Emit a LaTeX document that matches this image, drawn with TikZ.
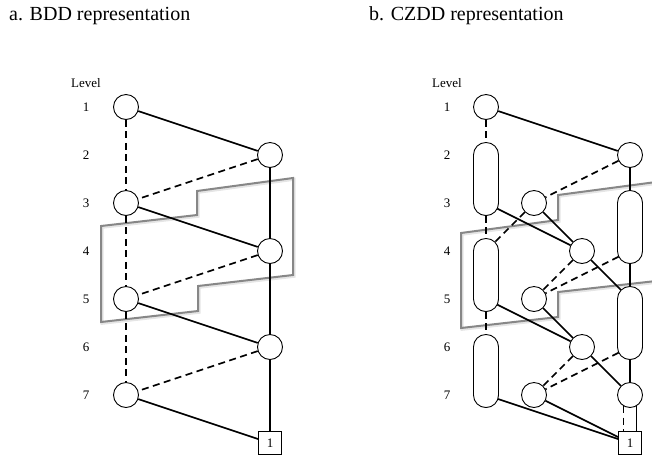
\documentclass[tikz,border=0pt]{standalone}
\usepackage{fontspec}
\setmainfont{Liberation Serif}
\usetikzlibrary{calc}

\begin{document}
\begin{tikzpicture}[x=1pt,y=-1pt,
  vtx/.style={circle,draw,line width=0.9pt,minimum size=25pt,inner sep=0pt},
  port/.style={circle,minimum size=25pt,inner sep=0pt},
  pill/.style={rectangle,draw,line width=0.9pt,rounded corners=12.3pt,
               minimum width=25pt,minimum height=73pt,inner sep=0pt},
  term/.style={rectangle,draw,line width=0.9pt,minimum size=23pt,inner sep=0pt,
               font=\fontsize{13}{14}\selectfont},
  hi/.style={line width=1.7pt},
  lo/.style={line width=1.7pt,dash pattern=on 7pt off 4.5pt},
  lvl/.style={font=\fontsize{13}{15}\selectfont,inner sep=0pt},
  ttl/.style={font=\fontsize{20}{24}\selectfont,anchor=base west,inner sep=0pt},
  frame/.style={draw=black!47,line width=2pt,line join=miter},
  frameshade/.style={draw=black!10,line width=3pt,line join=miter}
]
\useasboundingbox (0,0) rectangle (652,456);
\clip (0,0) rectangle (652,456);

% titles
\node[ttl] (ta) at (9,20) {a. BDD representation};
\node[ttl] (tb) at (369,20) {b. CZDD representation};

% level scales
\node[lvl] (la) at (86,83) {Level};
\node[lvl] (lb) at (447,83) {Level};
\foreach \k in {1,...,7}{
  \node[lvl] (la\k) at (86,{107+48*(\k-1)}) {\k};
  \node[lvl] (lb\k) at (447,{107+48*(\k-1)}) {\k};
}

% highlighted regions (with a soft drop shade)
\draw[frameshade] ([shift={(1,1.3)}]101,226) -- ++(96,-11) -- ++(0,-24) -- ++(96,-13)
  -- ++(0,97) -- ++(-95,11) -- ++(0,25) -- ++(-97,11) -- cycle;
\draw[frame] (101,226) -- (197,215) -- (197,191) -- (293,178) -- (293,275)
  -- (198,286) -- (198,311) -- (101,322) -- cycle;
\draw[frameshade] ([shift={(1,1.3)}]461,233) -- ++(97,-13) -- ++(0,-25) -- ++(98,-13)
  -- ++(0,99) -- ++(-98,11) -- ++(0,25) -- ++(-97,11) -- cycle;
\draw[frame] (461,233) -- (558,220) -- (558,195) -- (656,182) -- (656,281)
  -- (558,292) -- (558,317) -- (461,328) -- cycle;

% ---------- a. BDD ----------
\node[vtx] (a1) at (126,107) {};
\node[vtx] (a2) at (270,155) {};
\node[vtx] (a3) at (126,203) {};
\node[vtx] (a4) at (270,251) {};
\node[vtx] (a5) at (126,299) {};
\node[vtx] (a6) at (270,347) {};
\node[vtx] (a7) at (126,395) {};
\node[term] (at) at (270,443) {1};

\draw[hi] (a1) -- (a2);  \draw[lo] (a1) -- (a3);
\draw[lo] (a2) -- (a3);  \draw[hi] (a2) -- (a4);
\draw[hi] (a3) -- (a4);  \draw[lo] (a3) -- (a5);
\draw[lo] (a4) -- (a5);  \draw[hi] (a4) -- (a6);
\draw[hi] (a5) -- (a6);  \draw[lo] (a5) -- (a7);
\draw[lo] (a6) -- (a7);  \draw[hi] (a6) -- (at);
\draw[hi] (a7) -- (at);

% ---------- b. CZDD ----------
\node[vtx] (b1) at (486,107) {};
\node[pill] (bl23) at (486,179) {};
\node[pill] (bl45) at (486,275) {};
\node[pill] (bl67) at (486,371) {};
\node[port] (b2p) at (486,155) {};
\node[port] (b3p) at (486,203) {};
\node[port] (b4p) at (486,251) {};
\node[port] (b5p) at (486,299) {};
\node[port] (b6p) at (486,347) {};
\node[port] (b7p) at (486,395) {};

\node[vtx] (m3) at (534,203) {};
\node[vtx] (m5) at (534,299) {};
\node[vtx] (m7) at (534,395) {};
\node[vtx] (n4) at (582,251) {};
\node[vtx] (n6) at (582,347) {};

\node[vtx] (r2) at (630,155) {};
\node[pill] (br34) at (630,227) {};
\node[pill] (br56) at (630,323) {};
\node[port] (r3p) at (630,203) {};
\node[port] (r4p) at (630,251) {};
\node[port] (r5p) at (630,299) {};
\node[port] (r6p) at (630,347) {};
\node[vtx] (r7) at (630,395) {};
\node[term] (bt) at (630,443) {1};

\draw[lo] (b1) -- (b2p);   \draw[hi] (b1) -- (r2);
\draw[lo] (r2) -- (m3);    \draw[hi] (r2) -- (r3p);
\draw[lo] (b3p) -- (b4p);  \draw[hi] (b3p) -- (n4);
\draw[lo] (m3) -- (b4p);   \draw[hi] (m3) -- (n4);
\draw[lo] (n4) -- (m5);    \draw[hi] (n4) -- (r5p);
\draw[lo] (r4p) -- (m5);   \draw[hi] (r4p) -- (r5p);
\draw[lo] (b5p) -- (b6p);  \draw[hi] (b5p) -- (n6);
\draw[hi] (m5) -- (n6);
\draw[lo] (n6) -- (m7);    \draw[hi] (n6) -- (r7);
\draw[lo] (r6p) -- (m7);   \draw[hi] (r6p) -- (r7);
\draw[hi] (b7p) -- (bt);   \draw[hi] (m7) -- (bt);
\draw[lo] (r7.-120) -- (r7.-120 |- bt.north);
\draw[hi] (r7.-60) -- (r7.-60 |- bt.north);
\end{tikzpicture}
\end{document}
